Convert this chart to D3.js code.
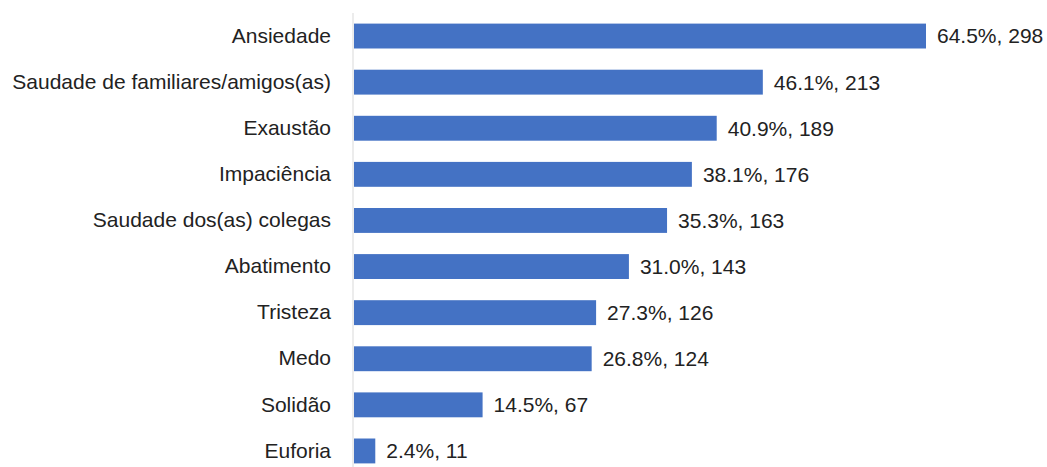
<!DOCTYPE html>
<html>
<head>
<meta charset="utf-8">
<script src="https://cdn.jsdelivr.net/npm/d3@7"></script>
<style>
body { margin: 0; background: #fff; }
text { font-family: "Liberation Sans", Arial, sans-serif; fill: #222; }
</style>
</head>
<body>
<svg id="chart" width="1047" height="467"></svg>
<script>
var categories = ["Ansiedade", "Saudade de familiares/amigos(as)", "Exaustão", "Impaciência",
	"Saudade dos(as) colegas", "Abatimento", "Tristeza", "Medo", "Solidão", "Euforia"];
var percents = [64.5, 46.1, 40.9, 38.1, 35.3, 31.0, 27.3, 26.8, 14.5, 2.4];
var counts = [298, 213, 189, 176, 163, 143, 126, 124, 67, 11];

var svg = d3.select("#chart");
var axisX = 354;	// 세로 축 위치
var fontSize = "21px";

var x = d3.scaleLinear()
	.domain([0, 64.5])
	.range([axisX, 926]);

var y = d3.scaleBand()
	.domain(categories)
	.range([13, 474])
	.paddingInner(0.46)
	.paddingOuter(0.23);

// 막대
svg.selectAll("rect.bar")
	.data(categories)
	.enter()
	.append("rect")
	.attr("class", "bar")
	.attr("x", x(0))
	.attr("y", function(d){ return y(d); })
	.attr("width", function(d, i){ return x(percents[i]) - x(0); })
	.attr("height", y.bandwidth())
	.attr("fill", "#4472c4");

// 세로 축 선
svg.append("line")
	.attr("x1", axisX - 1).attr("x2", axisX - 1)
	.attr("y1", 13).attr("y2", 467)
	.attr("stroke", "#d9d9d9")
	.attr("stroke-width", 1);

// 카테고리 라벨
var axis = d3.axisLeft(y).tickSize(0).tickPadding(23);
var g = svg.append("g")
	.attr("transform", "translate(" + axisX + ",0)")
	.call(axis);
g.select(".domain").remove();
g.selectAll("text")
	.style("font-size", fontSize)
	.style("font-family", "'Liberation Sans', Arial, sans-serif")
	.attr("fill", "#222");

// 값 라벨
svg.selectAll("text.val")
	.data(categories)
	.enter()
	.append("text")
	.attr("class", "val")
	.attr("x", function(d, i){ return x(percents[i]) + 11; })
	.attr("y", function(d){ return y(d) + y.bandwidth() / 2; })
	.attr("dy", "0.35em")
	.style("font-size", fontSize)
	.text(function(d, i){ return percents[i].toFixed(1) + "%, " + counts[i]; });
</script>
</body>
</html>
